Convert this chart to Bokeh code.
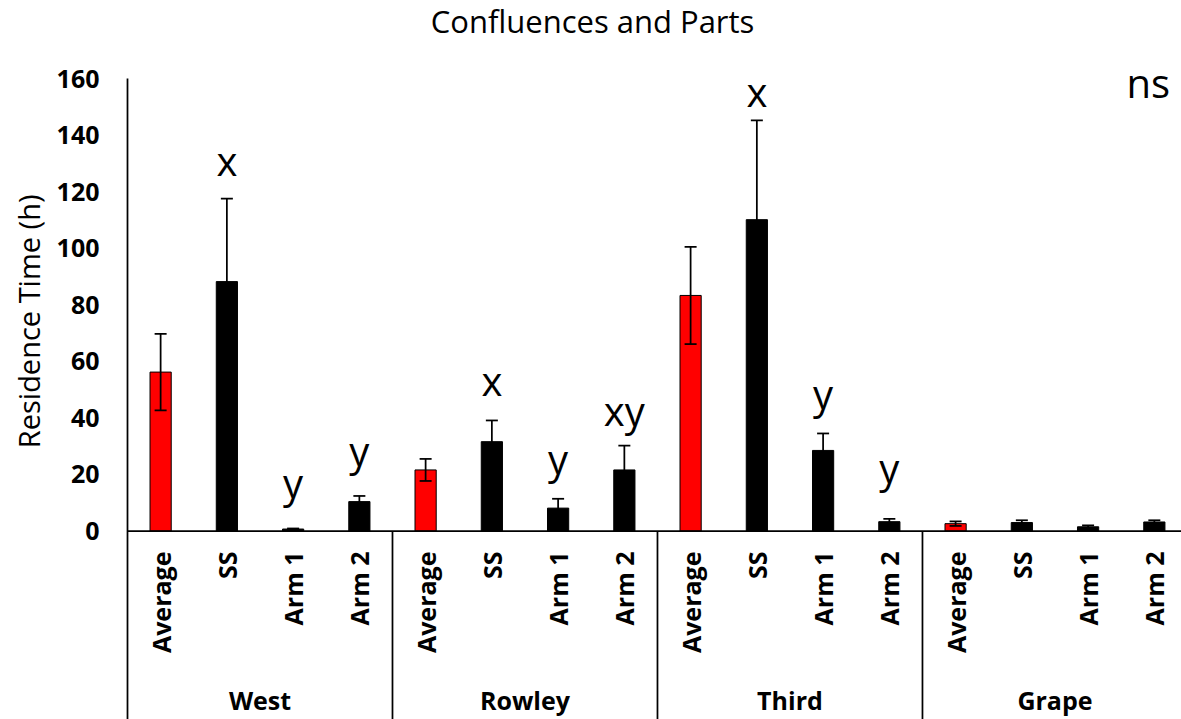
import math
from bokeh.plotting import figure
from bokeh.models import ColumnDataSource, Range1d, FixedTicker, Whisker, TeeHead, Span, Title
from bokeh.core.properties import value
from bokeh.embed import file_html
from bokeh.resources import INLINE

# ---- data ----
groups = ["West", "Rowley", "Third", "Grape"]
parts = ["Average", "SS", "Arm 1", "Arm 2"]

west_mean = [56.2, 88.2, 0.7, 10.4]
west_err = [13.5, 29.3, 0.2, 2.0]
rowley_mean = [21.6, 31.6, 8.1, 21.6]
rowley_err = [3.9, 7.5, 3.3, 8.6]
third_mean = [83.3, 110.1, 28.5, 3.3]
third_err = [17.2, 35.1, 6.0, 1.0]
grape_mean = [2.6, 3.0, 1.5, 3.2]
grape_err = [0.8, 0.8, 0.5, 0.6]

letters = ["", "x", "y", "y", "", "x", "y", "xy", "", "x", "y", "y", "", "", "", ""]
letter_base = [0, 131.0, 17.3, 28.3, 0, 53.4, 25.5, 42.5, 0, 155.3, 48.5, 22.5, 0, 0, 0, 0]

y_ticks = [0, 20, 40, 60, 80, 100, 120, 140, 160]

FONT = "Open Sans"

means = west_mean + rowley_mean + third_mean + grape_mean
errs = west_err + rowley_err + third_err + grape_err
n = len(means)
xs = [i + 0.5 for i in range(n)]
cat_labels = parts * len(groups)
colors = ["#ff0000" if p == "Average" else "#000000" for p in cat_labels]

src = ColumnDataSource(dict(
    x=xs, top=means, color=colors,
    upper=[m + e for m, e in zip(means, errs)],
    lower=[m - e for m, e in zip(means, errs)],
))

Y_TOP = 187.6
Y_BOTTOM = -66.65
p = figure(width=1181, height=719, output_backend="svg", toolbar_location=None,
           x_range=Range1d(0, 15.91), y_range=Range1d(Y_BOTTOM, Y_TOP),
           x_axis_location=None, min_border_left=127, min_border_top=0,
           min_border_bottom=0, min_border_right=0)
p.outline_line_color = None
p.xgrid.visible = False
p.ygrid.visible = False
p.background_fill_color = "white"
p.border_fill_color = "white"

yax = p.yaxis[0]
yax.ticker = FixedTicker(ticks=y_ticks)
yax.bounds = (Y_BOTTOM, 160)
yax.major_tick_in = 0
yax.major_tick_out = 0
yax.minor_tick_in = 0
yax.minor_tick_out = 0
yax.major_label_standoff = 28
yax.major_label_text_font = FONT
yax.major_label_text_font_style = "bold"
yax.major_label_text_font_size = "25px"
yax.major_label_text_color = "black"
yax.axis_line_color = "black"
yax.axis_line_width = 1.75

# y axis title
p.add_layout(Title(text="Residence Time (h)", align="right", offset=194,
                   text_font=FONT, text_font_style="normal", text_font_size="29px",
                   text_color="black", standoff=11), "left")

# bars
p.vbar(x="x", top="top", bottom=0, width=0.32, fill_color="color",
       line_color="black", line_width=1, source=src)

# error bars
p.add_layout(Whisker(source=src, base="x", upper="upper", lower="lower",
                     line_color="black", line_width=1.75, level="overlay",
                     upper_head=TeeHead(size=12, line_color="black", line_width=1.75),
                     lower_head=TeeHead(size=12, line_color="black", line_width=1.75)))

# x axis line
p.add_layout(Span(location=0, dimension="width", line_color="black", line_width=1.75))

# group separators
seps = [len(parts) * k for k in range(1, len(groups))]
p.segment(x0=seps, y0=[0] * len(seps), x1=seps, y1=[Y_BOTTOM] * len(seps),
          line_color="black", line_width=1.75)

# category labels
p.text(x=xs, y=[-7.25] * n, text=cat_labels, angle=math.pi / 2,
       text_align="right", text_baseline="middle",
       text_font=value(FONT), text_font_style="bold", text_font_size="25px",
       text_color="black")

# group labels
gx = [len(parts) * k + len(parts) / 2 for k in range(len(groups))]
p.text(x=gx, y=[-59.6] * len(groups), text=groups,
       text_align="center", text_baseline="middle",
       text_font=value(FONT), text_font_style="bold", text_font_size="25px",
       text_color="black")

# significance letters
lx = [x for x, t in zip(xs, letters) if t]
ly = [b for b, t in zip(letter_base, letters) if t]
lt = [t for t in letters if t]
p.text(x=lx, y=ly, text=lt, text_align="center", text_baseline="alphabetic",
       text_font=value(FONT), text_font_size="40px", text_color="black")
p.text(x=[15.41], y=[158.6], text=["ns"], text_align="center", text_baseline="alphabetic",
       text_font=value(FONT), text_font_size="40px", text_color="black")

# chart title
p.text(x=[7.02], y=[180.5], text=["Confluences and Parts"], text_align="center",
       text_baseline="alphabetic", text_font=value(FONT), text_font_size="31px",
       text_color="black")

open("out.html", "w").write(file_html(p, INLINE))
